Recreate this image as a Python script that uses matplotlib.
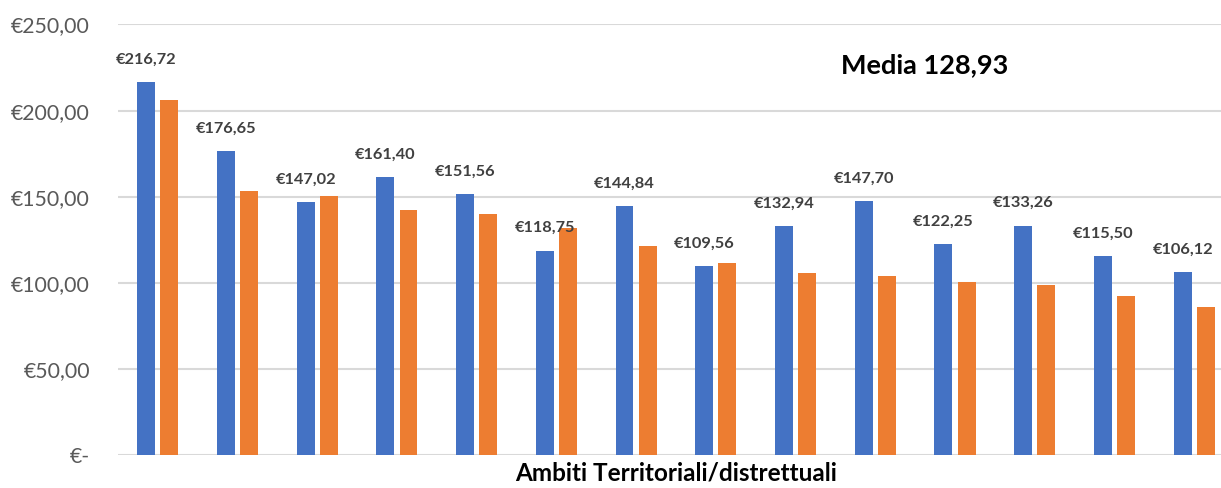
import matplotlib
matplotlib.use("Agg")
import matplotlib.pyplot as plt
import numpy as np

plt.rcParams['font.family'] = ['Lato', 'DejaVu Sans']

# Data
categories = [str(i) for i in range(1, 15)]
series_blue = [216.72, 176.65, 147.02, 161.40, 151.56, 118.75, 144.84,
               109.56, 132.94, 147.70, 122.25, 133.26, 115.50, 106.12]
series_orange = [206.4, 153.5, 150.4, 142.4, 139.9, 131.6, 121.1,
                 111.4, 105.6, 103.7, 100.4, 98.8, 92.6, 86.2]
blue_labels = ["€216,72", "€176,65", "€147,02", "€161,40", "€151,56", "€118,75",
               "€144,84", "€109,56", "€132,94", "€147,70", "€122,25", "€133,26",
               "€115,50", "€106,12"]
y_ticks = [0, 50, 100, 150, 200, 250]
y_tick_labels = ["€-", "€50,00", "€100,00", "€150,00", "€200,00", "€250,00"]
annotation_text = "Media 128,93"
x_title = "Ambiti Territoriali/distrettuali"

BLUE = "#4472C4"
ORANGE = "#ED7D31"
GRID = "#D9D9D9"

fig = plt.figure(figsize=(12.21, 4.88), dpi=100)
ax = fig.add_axes([117.9 / 1221, (488 - 455) / 488, (1234 - 117.9) / 1221, (455 - 24.5) / 488])

x = np.arange(len(categories))
off = 0.145
w = 0.225
ax.bar(x - off, series_blue, width=w, color=BLUE, zorder=3)
ax.bar(x + off, series_orange, width=w, color=ORANGE, zorder=3)

for xi, v, lab in zip(x, series_blue, blue_labels):
    ax.annotate(lab, (xi - off, v), xytext=(0, 11), textcoords="offset points",
                ha="center", va="bottom", fontsize=11.8, fontweight="bold",
                color="#404040", zorder=4)

ax.set_xlim(-0.5, len(categories) - 0.5)
ax.set_ylim(0, 250)
ax.set_yticks(y_ticks)
ax.set_yticklabels(y_tick_labels)
ax.set_xticks([])
ax.tick_params(axis="y", length=0, pad=20, labelsize=15.3, labelcolor="#595959")
ax.yaxis.grid(True, color=GRID, linewidth=1.5, zorder=0)
for s in ax.spines.values():
    s.set_visible(False)

ax.set_xlabel(x_title, fontsize=17.5, fontweight="bold", color="black", labelpad=5)

fig.text(925 / 1221, 1 - 65 / 488, annotation_text, ha="center", va="center",
         fontsize=19.5, fontweight="bold", color="black")

fig.savefig("out.png", dpi=100)
